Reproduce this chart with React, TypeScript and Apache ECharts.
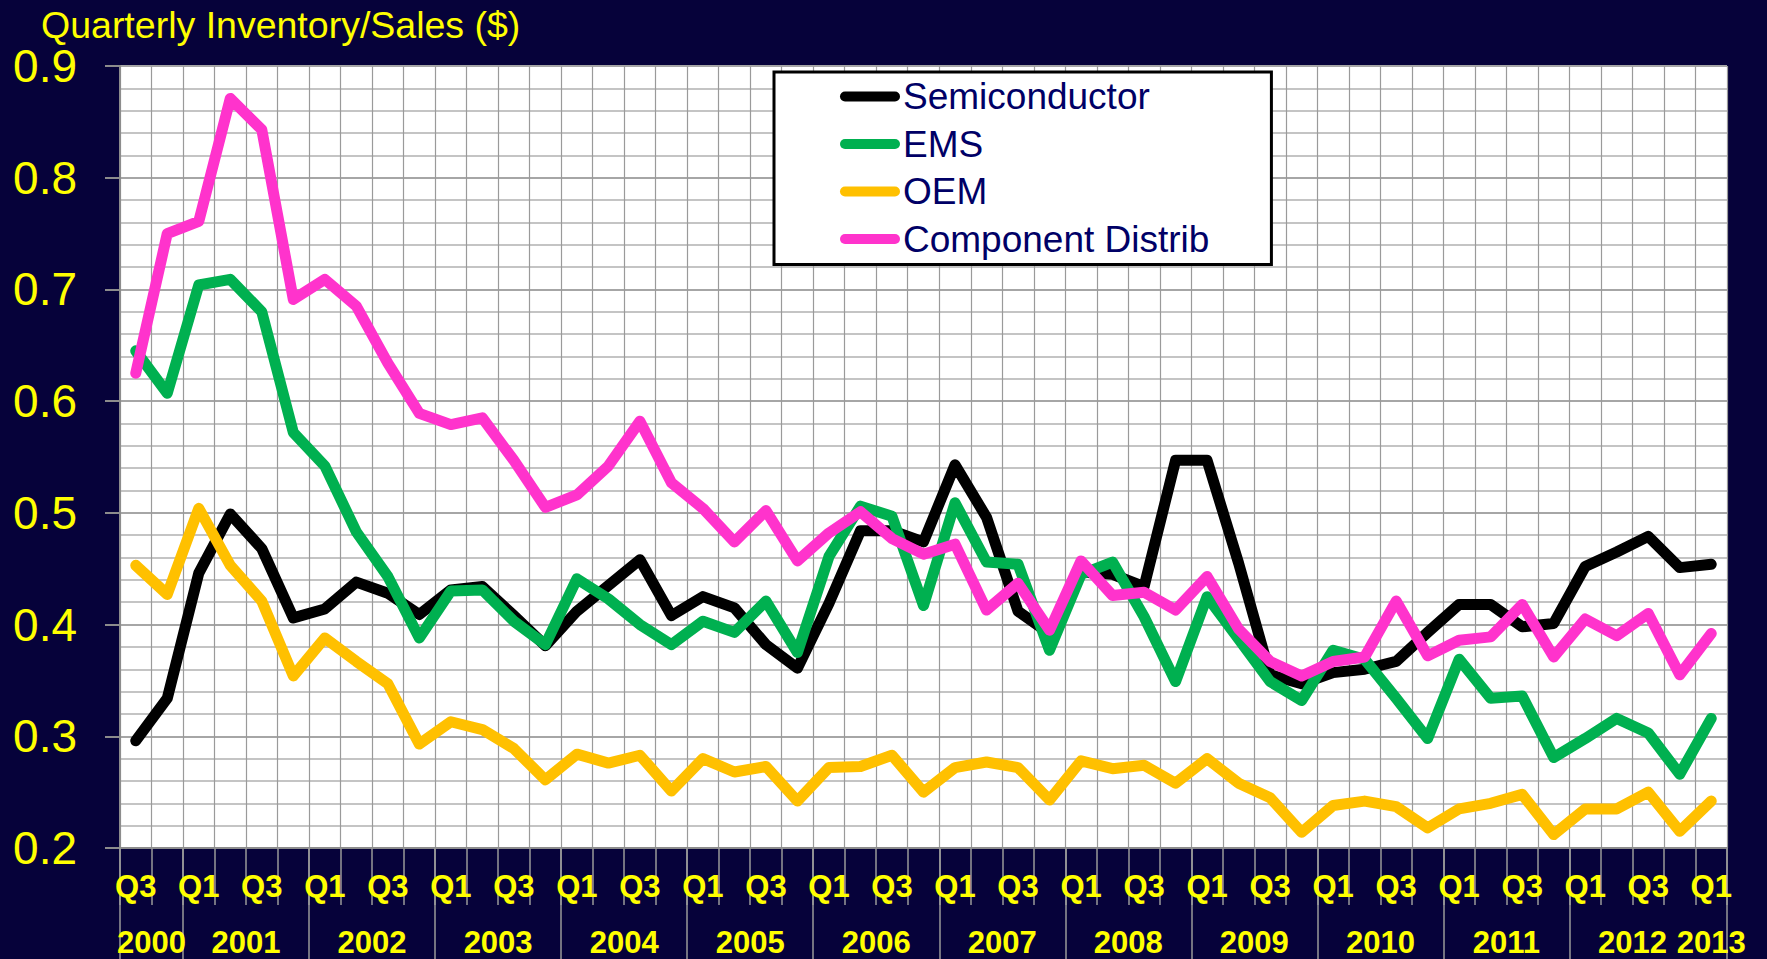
import React, { useEffect, useRef } from "react";
import * as echarts from "echarts";

const quarters = [
  "Q3 2000", "Q4 2000",
  "Q1 2001", "Q2 2001", "Q3 2001", "Q4 2001",
  "Q1 2002", "Q2 2002", "Q3 2002", "Q4 2002",
  "Q1 2003", "Q2 2003", "Q3 2003", "Q4 2003",
  "Q1 2004", "Q2 2004", "Q3 2004", "Q4 2004",
  "Q1 2005", "Q2 2005", "Q3 2005", "Q4 2005",
  "Q1 2006", "Q2 2006", "Q3 2006", "Q4 2006",
  "Q1 2007", "Q2 2007", "Q3 2007", "Q4 2007",
  "Q1 2008", "Q2 2008", "Q3 2008", "Q4 2008",
  "Q1 2009", "Q2 2009", "Q3 2009", "Q4 2009",
  "Q1 2010", "Q2 2010", "Q3 2010", "Q4 2010",
  "Q1 2011", "Q2 2011", "Q3 2011", "Q4 2011",
  "Q1 2012", "Q2 2012", "Q3 2012", "Q4 2012",
  "Q1 2013",
];

const years = ["2000", "2001", "2002", "2003", "2004", "2005", "2006", "2007", "2008", "2009", "2010", "2011", "2012", "2013"];
const quartersPerYear = [2, 4, 4, 4, 4, 4, 4, 4, 4, 4, 4, 4, 4, 1];

const semiconductor = [
  0.296, 0.334, 0.446, 0.499, 0.468, 0.406, 0.414, 0.438, 0.428, 0.409,
  0.431, 0.434, 0.408, 0.381, 0.412, 0.435, 0.458, 0.408, 0.425, 0.415,
  0.382, 0.361, 0.419, 0.484, 0.484, 0.474, 0.543, 0.496, 0.412, 0.392,
  0.447, 0.445, 0.434, 0.547, 0.547, 0.455, 0.355, 0.347, 0.357, 0.360,
  0.367, 0.393, 0.418, 0.418, 0.398, 0.401, 0.452, 0.465, 0.479, 0.451,
  0.454,
];
const ems = [
  0.645, 0.607, 0.704, 0.709, 0.680, 0.572, 0.542, 0.483, 0.443, 0.388,
  0.430, 0.431, 0.403, 0.382, 0.441, 0.423, 0.400, 0.382, 0.403, 0.393,
  0.421, 0.375, 0.461, 0.506, 0.497, 0.417, 0.509, 0.456, 0.454, 0.377,
  0.445, 0.456, 0.407, 0.349, 0.425, 0.387, 0.349, 0.332, 0.377, 0.369,
  0.334, 0.298, 0.369, 0.334, 0.336, 0.281, 0.298, 0.316, 0.303, 0.266,
  0.316,
];
const oem = [
  0.453, 0.427, 0.504, 0.453, 0.421, 0.354, 0.388, 0.367, 0.347, 0.293,
  0.313, 0.306, 0.289, 0.261, 0.284, 0.276, 0.283, 0.251, 0.280, 0.268,
  0.273, 0.242, 0.272, 0.273, 0.283, 0.250, 0.272, 0.277, 0.272, 0.243,
  0.278, 0.271, 0.274, 0.258, 0.280, 0.258, 0.245, 0.214, 0.238, 0.242,
  0.237, 0.218, 0.235, 0.240, 0.248, 0.212, 0.235, 0.235, 0.250, 0.215,
  0.242,
];
const componentDistrib = [
  0.625, 0.750, 0.761, 0.871, 0.843, 0.691, 0.709, 0.685, 0.634, 0.589,
  0.579, 0.585, 0.547, 0.505, 0.516, 0.542, 0.582, 0.527, 0.504, 0.474,
  0.502, 0.457, 0.482, 0.501, 0.477, 0.463, 0.472, 0.413, 0.437, 0.395,
  0.457, 0.426, 0.429, 0.413, 0.443, 0.396, 0.367, 0.354, 0.367, 0.371,
  0.421, 0.372, 0.386, 0.389, 0.418, 0.371, 0.405, 0.390, 0.410, 0.355,
  0.392,
];

const seriesNames = ["Semiconductor", "EMS", "OEM", "Component Distrib"];
const seriesColors = ["#000000", "#00B050", "#FFC000", "#FF33CC"];

const FONT = 'Arial, "Liberation Sans", sans-serif';
const YELLOW = "#FFFF00";
const NAVY = "#06023A";

export default function App() {
  const ref = useRef<HTMLDivElement>(null);

  useEffect(() => {
    if (!ref.current) return;
    const chart = echarts.init(ref.current, null, { renderer: "svg" });

    const boundaries: number[] = [0];
    quartersPerYear.forEach((n) => boundaries.push(boundaries[boundaries.length - 1] + n));
    const yearCenters = years.map((_, k) => (boundaries[k] + boundaries[k + 1]) / 2);
    const longTicks = boundaries.filter((b) => b !== boundaries[boundaries.length - 2]);

    const values = [semiconductor, ems, oem, componentDistrib];

    chart.setOption({
      animation: false,
      backgroundColor: NAVY,
      title: {
        text: "Quarterly Inventory/Sales ($)",
        left: 41,
        top: 6,
        padding: 0,
        textStyle: { color: YELLOW, fontFamily: FONT, fontSize: 37.5, fontWeight: "normal", lineHeight: 37 },
      },
      legend: {
        orient: "vertical",
        left: 774,
        top: 72,
        padding: [6, 62, 7, 66],
        itemWidth: 60,
        itemHeight: 10,
        itemGap: 10.5,
        backgroundColor: "#FFFFFF",
        borderColor: "#000000",
        borderWidth: 3,
        borderRadius: 0,
        icon: "path://M5,0 L55,0 A5,5 0 0 1 55,10 L5,10 A5,5 0 0 1 5,0 Z",
        textStyle: { color: "#000066", fontFamily: FONT, fontSize: 37, lineHeight: 37, padding: [0, 0, 0, -2] },
        data: seriesNames,
      },
      grid: {
        left: 120,
        right: 40,
        top: 66,
        bottom: 111,
        show: true,
        backgroundColor: "#FFFFFF",
        borderWidth: 0,
      },
      xAxis: [
        {
          type: "category",
          data: quarters,
          boundaryGap: true,
          position: "bottom",
          axisLine: { show: true, lineStyle: { color: "#8C8C8C", width: 2 } },
          axisTick: { show: true, interval: 0, length: 57, lineStyle: { color: "#9A9A9A", width: 1.5 } },
          axisLabel: {
            interval: 1,
            margin: 23,
            color: YELLOW,
            fontFamily: FONT,
            fontSize: 31,
            fontWeight: "bold",
            lineHeight: 31,
            formatter: (v: string) => v.split(" ")[0],
          },
          splitLine: { show: true, interval: 0, lineStyle: { color: "#9A9A9A", width: 1.2 } },
        },
        {
          type: "value",
          min: 0,
          max: quarters.length,
          position: "bottom",
          axisLine: { show: false },
          splitLine: { show: false },
          axisTick: {
            show: true,
            customValues: longTicks,
            length: 111,
            lineStyle: { color: "#9A9A9A", width: 1.5 },
          },
          axisLabel: {
            customValues: yearCenters,
            margin: 79,
            color: YELLOW,
            fontFamily: FONT,
            fontSize: 31,
            fontWeight: "bold",
            lineHeight: 31,
            formatter: (v: number) => {
              const k = yearCenters.indexOf(v);
              return k >= 0 ? years[k] : "";
            },
          },
        },
      ],
      yAxis: {
        type: "value",
        min: 0.2,
        max: 0.9,
        interval: 0.1,
        axisLine: { show: true, lineStyle: { color: "#8C8C8C", width: 2 } },
        axisTick: { show: true, length: 15, lineStyle: { color: "#8C8C8C", width: 2 } },
        axisLabel: {
          margin: 43,
          color: YELLOW,
          fontFamily: FONT,
          fontSize: 46,
          formatter: (v: number) => v.toFixed(1),
        },
        splitLine: { show: true, lineStyle: { color: "#A6A6A6", width: 2.2 } },
        minorTick: { show: false, splitNumber: 5 },
        minorSplitLine: { show: true, lineStyle: { color: "#C4C4C4", width: 2 } },
      },
      series: seriesNames.map((name, k) => ({
        name,
        type: "line",
        xAxisIndex: 0,
        data: values[k],
        color: seriesColors[k],
        showSymbol: false,
        symbol: "none",
        lineStyle: { color: seriesColors[k], width: 11, cap: "round", join: "round" },
        z: 3 + k,
      })),
    });

    return () => chart.dispose();
  }, []);

  return (
    <div
      ref={ref}
      style={{ position: "fixed", left: 0, top: 0, width: 1767, height: 959 }}
    />
  );
}
